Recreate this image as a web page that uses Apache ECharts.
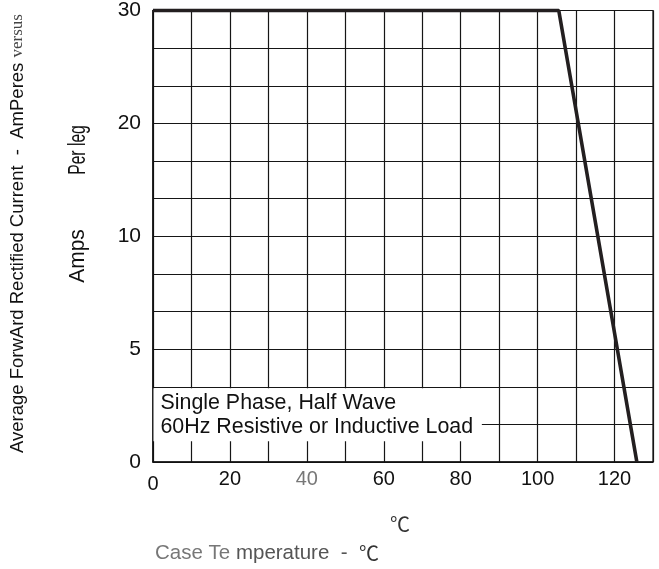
<!DOCTYPE html>
<html>
<head>
<meta charset="utf-8">
<script src="https://cdn.jsdelivr.net/npm/echarts@6/dist/echarts.min.js"></script>
<style>
html,body{margin:0;padding:0;background:#fff;}
#c{width:659px;height:569px;}
</style>
</head>
<body>
<div id="c"></div>
<script>
// Case temperature (°C) and derated current (Amps per leg)
const caseTempC = [0, 105.5, 125.8];
const ampsPerLeg = [30, 30, 0];
// Y tick labels (non-uniform scale, equally spaced on the chart)
const yTickValues = [0, 5, 10, 20, 30];
const xTickLabels = [0, 20, 40, 60, 80, 100, 120];
const noteLines = ['Single Phase, Half Wave', '60Hz Resistive or Inductive Load'];

// piecewise axis: each y tick label occupies 3 grid rows
const ROWS_PER_TICK = 3;
function ampsToRow(a) {
  for (let i = 0; i < yTickValues.length - 1; i++) {
    const lo = yTickValues[i], hi = yTickValues[i + 1];
    if (a <= hi) return (i + (a - lo) / (hi - lo)) * ROWS_PER_TICK;
  }
  return (yTickValues.length - 1) * ROWS_PER_TICK;
}
const rowLabel = {};
yTickValues.forEach((v, i) => { rowLabel[i * ROWS_PER_TICK] = String(v); });

const seriesData = caseTempC.map((t, i) => [t, ampsToRow(ampsPerLeg[i])]);

const SANS = 'Liberation Sans, Arial, sans-serif';
const chart = echarts.init(document.getElementById('c'), null, {renderer: 'canvas'});
chart.setOption({
  backgroundColor: '#fff',
  animation: false,
  grid: {left: 153, right: 6, top: 3.5, bottom: 107, show: true, borderColor: '#111', borderWidth: 1.2},
  xAxis: {
    type: 'value', min: 0, max: 130, interval: 10,
    axisLine: {show: true, lineStyle: {color: '#111', width: 1.5}},
    axisTick: {show: false},
    splitLine: {show: true, lineStyle: {color: '#161616', width: 1.2}},
    axisLabel: {
      fontFamily: SANS, fontSize: 20, color: '#111', margin: 7,
      formatter: v => xTickLabels.indexOf(v) < 0 ? '' : (v === 40 ? '{g|40}' : (v === 0 ? '{z|0}' : String(v))),
      rich: {
        g: {color: '#777', fontSize: 20, fontFamily: SANS},
        z: {color: '#111', fontSize: 20, fontFamily: SANS, padding: [5, 0, 0, 0]}
      }
    }
  },
  yAxis: {
    type: 'value', min: 0, max: (yTickValues.length - 1) * ROWS_PER_TICK, interval: 1,
    axisLine: {show: true, lineStyle: {color: '#111', width: 1.5}},
    axisTick: {show: false},
    splitLine: {show: true, lineStyle: {color: '#161616', width: 1.2}},
    axisLabel: {
      fontFamily: SANS, fontSize: 21, color: '#111', margin: 12,
      formatter: v => rowLabel[v] !== undefined ? rowLabel[v] : ''
    }
  },
  series: [{
    type: 'line',
    data: seriesData,
    symbol: 'none',
    clip: false,
    lineStyle: {color: '#231f20', width: 3.6},
    z: 5,
    markArea: {
      silent: true,
      itemStyle: {color: '#fff', borderWidth: 0},
      label: {
        show: true, position: 'insideLeft', distance: 7,
        formatter: noteLines.join('\n'),
        fontFamily: SANS, fontSize: 21.4, lineHeight: 24, color: '#111'
      },
      data: [[{xAxis: 0.12, yAxis: 0.55}, {xAxis: 85.5, yAxis: 1.96}]]
    }
  }],
  graphic: [
    {
      type: 'text', x: 18, y: 453, rotation: Math.PI / 2,
      style: {
        text: '{a|Average ForwArd Rectified Current  -  AmPeres }{b|versus}',
        verticalAlign: 'middle', align: 'left',
        rich: {
          a: {fontFamily: SANS, fontSize: 18.5, fill: '#111'},
          b: {fontFamily: 'Liberation Serif, DejaVu Serif, serif', fontSize: 17, fill: '#444'}
        }
      }
    },
    {
      type: 'text', x: 79, y: 150, rotation: Math.PI / 2, scaleX: 0.68,
      style: {text: 'Per leg', align: 'center', verticalAlign: 'middle',
        font: '23px "Liberation Sans", Arial, sans-serif', fill: '#111'}
    },
    {
      type: 'text', x: 78, y: 256, rotation: Math.PI / 2, scaleX: 0.95,
      style: {text: 'Amps', align: 'center', verticalAlign: 'middle',
        font: '22px "Liberation Sans", Arial, sans-serif', fill: '#111'}
    },
    {
      type: 'text', x: 155, y: 553,
      style: {
        text: '{g|Case Te}{d| mperature  -  }{s|℃}',
        align: 'left', verticalAlign: 'middle',
        rich: {
          g: {fontFamily: SANS, fontSize: 20.5, fill: '#777'},
          d: {fontFamily: SANS, fontSize: 20.5, fill: '#555'},
          s: {fontFamily: 'Noto Sans CJK JP, DejaVu Serif, serif', fontSize: 20, fill: '#333'}
        }
      }
    },
    {
      type: 'text', x: 400, y: 524,
      style: {text: '℃', align: 'center', verticalAlign: 'middle',
        font: '20px "Noto Sans CJK JP", "DejaVu Serif", serif', fill: '#333'}
    }
  ]
});
</script>
</body>
</html>
